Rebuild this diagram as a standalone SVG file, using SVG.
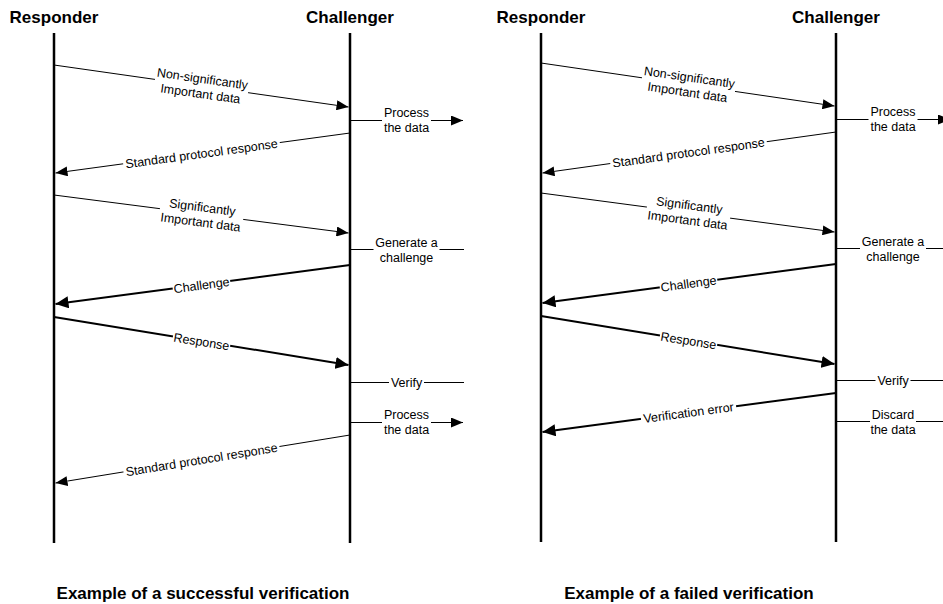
<svg xmlns="http://www.w3.org/2000/svg" width="943" height="604" viewBox="0 0 943 604">
<style>
.life{stroke:#000;stroke-width:2.5;fill:none}
.msg{stroke:#000;stroke-width:1;fill:none}
.thick{stroke-width:2}
.bg{fill:#fff}
.lbl{font-family:"Liberation Sans",Arial,Helvetica,sans-serif;font-size:12.5px;fill:#000;text-anchor:middle}
.title{font-family:"Liberation Sans",Arial,Helvetica,sans-serif;font-size:17px;font-weight:bold;fill:#000;text-anchor:middle}
</style>
<defs>
<marker id="ah" markerUnits="userSpaceOnUse" markerWidth="12" markerHeight="10" refX="12" refY="5" orient="auto"><path d="M0,0 L12,5 L0,10 z" fill="#000"/></marker>
<marker id="ahb" markerUnits="userSpaceOnUse" markerWidth="13" markerHeight="12" refX="13" refY="6" orient="auto"><path d="M0,0 L13,6 L0,12 z" fill="#000"/></marker>
</defs>
<rect width="943" height="604" fill="#fff"/>

<g id="left-responder"><text class="title" x="54" y="23">Responder</text><line class="life" x1="54" y1="33" x2="54" y2="543"/></g>
<g id="left-challenger"><text class="title" x="350" y="23">Challenger</text><line class="life" x1="350" y1="33" x2="350" y2="543"/></g>
<g id="right-responder"><text class="title" x="541" y="23">Responder</text><line class="life" x1="541" y1="33" x2="541" y2="542"/></g>
<g id="right-challenger"><text class="title" x="836" y="23">Challenger</text><line class="life" x1="836" y1="33" x2="836" y2="542"/></g>

<g id="captions">
<text class="title" x="203" y="599">Example of a successful verification</text>
<text class="title" x="689" y="599">Example of a failed verification</text>
</g>

<g id="connectors">
<!-- left diagram -->
<line class="msg" x1="54" y1="65" x2="348.5" y2="107" marker-end="url(#ah)"/>
<g transform="translate(201.5,86) rotate(8.1)"><rect class="bg" x="-47" y="-14.5" width="94" height="29"/><text class="lbl"><tspan x="0" y="-3">Non-significantly</tspan><tspan x="0" y="12">Important data</tspan></text></g>

<line class="msg" x1="350" y1="120.5" x2="463" y2="120.5" marker-end="url(#ah)"/>
<g transform="translate(406.5,120)"><rect class="bg" x="-24.5" y="-14.5" width="49" height="29"/><text class="lbl"><tspan x="0" y="-3">Process</tspan><tspan x="0" y="12">the data</tspan></text></g>

<line class="msg" x1="350" y1="133" x2="55.5" y2="173" marker-end="url(#ah)"/>
<g transform="translate(201.5,153.5) rotate(-7.7)"><rect class="bg" x="-79" y="-7" width="158" height="14"/><text class="lbl" x="0" y="4.5">Standard protocol response</text></g>

<line class="msg" x1="54" y1="195" x2="348.5" y2="233" marker-end="url(#ah)"/>
<g transform="translate(201.5,214.5) rotate(7.3)"><rect class="bg" x="-42" y="-14.5" width="84" height="29"/><text class="lbl"><tspan x="0" y="-3">Significantly</tspan><tspan x="0" y="12">Important data</tspan></text></g>

<line class="msg" x1="350" y1="249.5" x2="464" y2="249.5"/>
<g transform="translate(406.5,249.5)"><rect class="bg" x="-33" y="-14.5" width="66" height="29"/><text class="lbl"><tspan x="0" y="-3">Generate a</tspan><tspan x="0" y="12">challenge</tspan></text></g>

<line class="msg thick" x1="350" y1="265" x2="55.5" y2="304" marker-end="url(#ahb)"/>
<g transform="translate(201.5,285) rotate(-7.5)"><rect class="bg" x="-29" y="-7" width="58" height="14"/><text class="lbl" x="0" y="4.5">Challenge</text></g>

<line class="msg thick" x1="54" y1="317" x2="348.5" y2="365" marker-end="url(#ahb)"/>
<g transform="translate(201.5,341.5) rotate(9.2)"><rect class="bg" x="-29" y="-7" width="58" height="14"/><text class="lbl" x="0" y="4.5">Response</text></g>

<line class="msg" x1="350" y1="382.5" x2="464" y2="382.5"/>
<g transform="translate(406.5,382.5)"><rect class="bg" x="-17.5" y="-7" width="35" height="14"/><text class="lbl" x="0" y="4.5">Verify</text></g>

<line class="msg" x1="350" y1="422.5" x2="463" y2="422.5" marker-end="url(#ah)"/>
<g transform="translate(406.5,422)"><rect class="bg" x="-24.5" y="-14.5" width="49" height="29"/><text class="lbl"><tspan x="0" y="-3">Process</tspan><tspan x="0" y="12">the data</tspan></text></g>

<line class="msg" x1="350" y1="435" x2="55.5" y2="483" marker-end="url(#ah)"/>
<g transform="translate(201.5,459.5) rotate(-9.2)"><rect class="bg" x="-79" y="-7" width="158" height="14"/><text class="lbl" x="0" y="4.5">Standard protocol response</text></g>

<!-- right diagram -->
<line class="msg" x1="541" y1="63" x2="834.5" y2="106" marker-end="url(#ah)"/>
<g transform="translate(688.5,84.5) rotate(8.3)"><rect class="bg" x="-47" y="-14.5" width="94" height="29"/><text class="lbl"><tspan x="0" y="-3">Non-significantly</tspan><tspan x="0" y="12">Important data</tspan></text></g>

<line class="msg" x1="836" y1="119.5" x2="950" y2="119.5" marker-end="url(#ah)"/>
<g transform="translate(893,119)"><rect class="bg" x="-24.5" y="-14.5" width="49" height="29"/><text class="lbl"><tspan x="0" y="-3">Process</tspan><tspan x="0" y="12">the data</tspan></text></g>

<line class="msg" x1="836" y1="132" x2="542.5" y2="173" marker-end="url(#ah)"/>
<g transform="translate(688.5,152.5) rotate(-7.9)"><rect class="bg" x="-79" y="-7" width="158" height="14"/><text class="lbl" x="0" y="4.5">Standard protocol response</text></g>

<line class="msg" x1="541" y1="193" x2="834.5" y2="232" marker-end="url(#ah)"/>
<g transform="translate(688.5,212.5) rotate(7.5)"><rect class="bg" x="-42" y="-14.5" width="84" height="29"/><text class="lbl"><tspan x="0" y="-3">Significantly</tspan><tspan x="0" y="12">Important data</tspan></text></g>

<line class="msg" x1="836" y1="248.5" x2="950" y2="248.5"/>
<g transform="translate(893,248.5)"><rect class="bg" x="-33" y="-14.5" width="66" height="29"/><text class="lbl"><tspan x="0" y="-3">Generate a</tspan><tspan x="0" y="12">challenge</tspan></text></g>

<line class="msg thick" x1="836" y1="264" x2="542.5" y2="303" marker-end="url(#ahb)"/>
<g transform="translate(688.5,283.5) rotate(-7.5)"><rect class="bg" x="-29" y="-7" width="58" height="14"/><text class="lbl" x="0" y="4.5">Challenge</text></g>

<line class="msg thick" x1="541" y1="316" x2="834.5" y2="364" marker-end="url(#ahb)"/>
<g transform="translate(688.5,340.5) rotate(9.2)"><rect class="bg" x="-29" y="-7" width="58" height="14"/><text class="lbl" x="0" y="4.5">Response</text></g>

<line class="msg" x1="836" y1="380.5" x2="950" y2="380.5"/>
<g transform="translate(893,380.5)"><rect class="bg" x="-17.5" y="-7" width="35" height="14"/><text class="lbl" x="0" y="4.5">Verify</text></g>

<line class="msg thick" x1="836" y1="393" x2="542.5" y2="432" marker-end="url(#ahb)"/>
<g transform="translate(688.5,412.5) rotate(-7.5)"><rect class="bg" x="-48" y="-7" width="96" height="14"/><text class="lbl" x="0" y="4.5">Verification error</text></g>

<line class="msg" x1="836" y1="421.5" x2="950" y2="421.5"/>
<g transform="translate(893,421.5)"><rect class="bg" x="-23" y="-14.5" width="46" height="29"/><text class="lbl"><tspan x="0" y="-3">Discard</tspan><tspan x="0" y="12">the data</tspan></text></g>
</g>
</svg>
